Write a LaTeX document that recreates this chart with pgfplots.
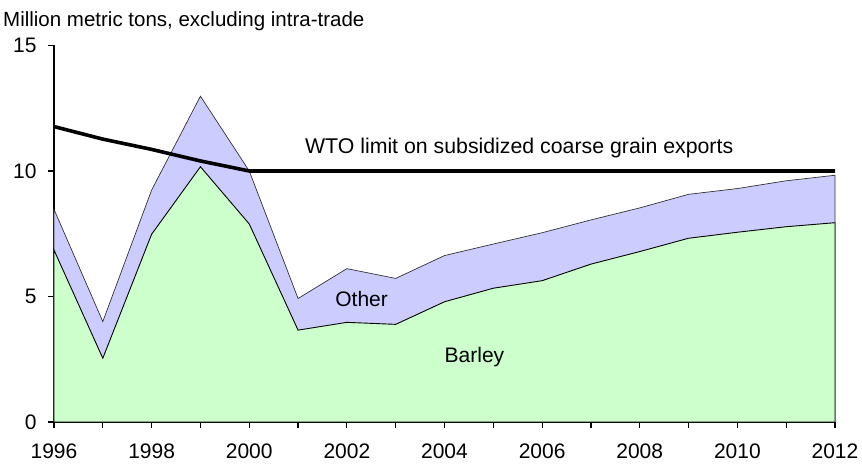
\documentclass[border=0pt]{standalone}
\usepackage{pgfplots}
\pgfplotsset{compat=1.18}
\usepackage{fontspec}
\setmainfont{Liberation Sans}
\definecolor{otherc}{HTML}{CCCCFF}
\definecolor{barleyc}{HTML}{CCFFCC}
\begin{document}
\begin{tikzpicture}
\path[use as bounding box] (-54pt,-43pt) rectangle (808pt,422pt);
\begin{axis}[
  at={(0,0)}, anchor=south west,
  scale only axis, width=781pt, height=376.5pt,
  xmin=1996, xmax=2012, ymin=0, ymax=15,
  axis lines=left, axis line style={-, line width=1.6pt},
  xtick={1996,1998,...,2012}, minor xtick={1997,1999,...,2011},
  ytick={0,5,10,15},
  tick align=outside, major tick length=6pt, minor tick length=6pt,
  tick style={line width=1.2pt, black},
  /pgf/number format/1000 sep={},
  /pgf/number format/assume math mode=true,
  ticklabel style={font=\fontsize{21}{24}\selectfont},
  yticklabel style={xshift=-8pt},
  xticklabel style={inner sep=1pt, yshift=-15pt},
  clip=false,
]
\addplot[fill=otherc, draw=black!80, line width=0.7pt] coordinates {
(1996,8.47) (1997,4.0) (1998,9.24) (1999,12.98) (2000,10.0) (2001,4.92)
(2002,6.11) (2003,5.72) (2004,6.63) (2005,7.09) (2006,7.54) (2007,8.05)
(2008,8.53) (2009,9.07) (2010,9.30) (2011,9.61) (2012,9.83)} \closedcycle;
\addplot[fill=barleyc, draw=black, line width=0.9pt] coordinates {
(1996,6.85) (1997,2.54) (1998,7.48) (1999,10.17) (2000,7.89) (2001,3.66)
(2002,3.97) (2003,3.89) (2004,4.79) (2005,5.33) (2006,5.63) (2007,6.29)
(2008,6.79) (2009,7.32) (2010,7.56) (2011,7.78) (2012,7.94)} \closedcycle;
\addplot[black, line width=3.6pt] coordinates {
(1996,11.77) (1997,11.27) (1998,10.86) (1999,10.40) (2000,10.0) (2001,10.0)
(2002,10.0) (2003,10.0) (2004,10.0) (2005,10.0) (2006,10.0) (2007,10.0)
(2008,10.0) (2009,10.0) (2010,10.0) (2011,10.0) (2012,10.0)};
\node[anchor=base west, inner sep=0pt, font=\fontsize{21.3}{24}\selectfont] at (axis cs:2001.14,10.68) {WTO limit on subsidized coarse grain exports};
\node[anchor=base west, inner sep=0pt, font=\fontsize{21}{24}\selectfont] at (axis cs:2001.76,4.59) {Other};
\node[anchor=base west, inner sep=0pt, font=\fontsize{21}{24}\selectfont] at (axis cs:2004.0,2.38) {Barley};
\end{axis}
\node[anchor=base west, inner sep=0pt, font=\fontsize{20.5}{23}\selectfont] at (-51pt,395.3pt) {Million metric tons, excluding intra-trade};
\end{tikzpicture}
\end{document}
